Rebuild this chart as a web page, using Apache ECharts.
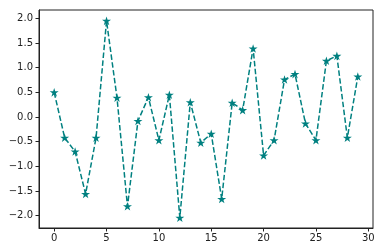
<!DOCTYPE html>
<html><head><meta charset="utf-8">
<script src="https://cdn.jsdelivr.net/npm/echarts@6/dist/echarts.min.js"></script>
<style>html,body{margin:0;padding:0;background:#fff}#c{width:384px;height:252px}</style>
</head><body><div id="c"></div>
<script>
const xValues = [0,1,2,3,4,5,6,7,8,9,10,11,12,13,14,15,16,17,18,19,20,21,22,23,24,25,26,27,28,29];
const yValues = [0.50,-0.42,-0.70,-1.56,-0.42,1.95,0.39,-1.81,-0.08,0.40,-0.47,0.45,-2.04,0.30,-0.52,-0.34,-1.66,0.29,0.14,1.39,-0.78,-0.47,0.76,0.87,-0.13,-0.47,1.14,1.24,-0.42,0.82];
const xTicks = [0,5,10,15,20,25,30];
const yTicks = [-2.0,-1.5,-1.0,-0.5,0.0,0.5,1.0,1.5,2.0];

const star = 'path://M50,0L61.2,34.5L97.6,34.5L68.2,55.9L79.4,90.5L50,69.1L20.6,90.5L31.8,55.9L2.4,34.5L38.8,34.5Z';
const fmt = v => (v < 0 ? '\u2212' : '') + Math.abs(v).toFixed(1);
const axisCol = '#222';
const chart = echarts.init(document.getElementById('c'));
chart.setOption({
  animation: false,
  grid: {left: 39, right: 11, top: 10, bottom: 24, show: true, borderColor: axisCol, borderWidth: 1, backgroundColor: 'transparent'},
  xAxis: {
    type: 'value', min: -1.45, max: 30.45,
    axisLine: {show: true, onZero: false, lineStyle: {color: axisCol, width: 1}},
    axisTick: {show: true, length: 3.5, customValues: xTicks, lineStyle: {color: axisCol}},
    axisLabel: {customValues: xTicks, color: axisCol, fontSize: 10, fontFamily: 'DejaVu Sans', margin: 5, showMinLabel: true, showMaxLabel: true},
    splitLine: {show: false}
  },
  yAxis: {
    type: 'value', min: -2.25, max: 2.17,
    axisLine: {show: true, onZero: false, lineStyle: {color: axisCol, width: 1}},
    axisTick: {show: true, length: 3.5, customValues: yTicks, lineStyle: {color: axisCol}},
    axisLabel: {customValues: yTicks, color: axisCol, fontSize: 10, fontFamily: 'DejaVu Sans', margin: 6, formatter: fmt},
    splitLine: {show: false}
  },
  series: [{
    type: 'line',
    data: xValues.map((x, i) => [x, yValues[i]]),
    symbol: star, symbolSize: 9, symbolKeepAspect: true, showAllSymbol: true,
    itemStyle: {color: '#008080', borderWidth: 0},
    lineStyle: {color: '#008080', width: 1.5, type: [5.5, 2.4]}
  }]
});
</script></body></html>
